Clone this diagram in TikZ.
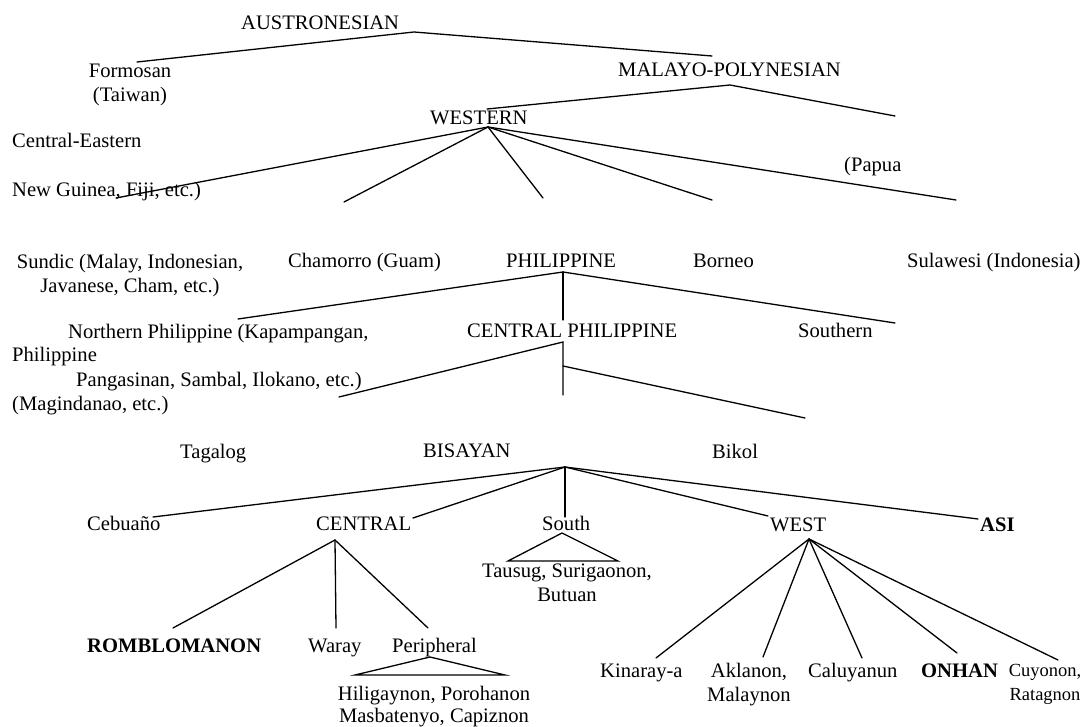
\documentclass[tikz,border=0pt]{standalone}
\usepackage{fontspec}
\setmainfont{Liberation Serif}
\begin{document}
\begin{tikzpicture}[x=1pt,y=-1pt,
  lang/.style={inner sep=0pt,font=\fontsize{20.6}{24}\selectfont},
  langleft/.style={lang,anchor=base west},
  langbold/.style={langleft,font=\fontsize{20.6}{24}\selectfont\bfseries},
  langstack/.style={lang,anchor=north,align=center},
  branch/.style={line width=1.3pt,line cap=round}]

\useasboundingbox (0,0) rectangle (1085,727);

% language names
\node[langleft] (austro) at (241,30) {AUSTRONESIAN};
\node[langstack] (formosan) at (130,64) {Formosan\\(Taiwan)};
\node[langleft] (malpol) at (618,77) {MALAYO-POLYNESIAN};
\node[langleft] (western) at (430,125) {WESTERN};
\node[langleft] (ceneast) at (12,148) {Central-Eastern};
\node[langleft] (newguinea) at (12,197) {New Guinea, Fiji, etc.)};
\node[langleft] (papua) at (844,172) {(Papua};

\node[langstack] (sundic) at (130,254) {Sundic (Malay, Indonesian,\\Javanese, Cham, etc.)};
\node[langleft] (chamorro) at (288,268) {Chamorro (Guam)};
\node[langleft] (philippine) at (506,268) {PHILIPPINE};
\node[langleft] (borneo) at (693,268) {Borneo};
\node[langleft] (sulawesi) at (907,268) {Sulawesi (Indonesia)};

\node[langleft] (northern) at (68,339) {Northern Philippine (Kapampangan,};
\node[langleft] (philsouth) at (12,362) {Philippine};
\node[langleft] (pangasinan) at (76,387) {Pangasinan, Sambal, Ilokano, etc.)};
\node[langleft] (magindanao) at (12,410) {(Magindanao, etc.)};
\node[langleft] (cenphil) at (467,338) {CENTRAL PHILIPPINE};
\node[langleft] (southern) at (798,338) {Southern};

\node[langleft] (tagalog) at (180,458) {Tagalog};
\node[langleft] (bisayan) at (423,457) {BISAYAN};
\node[langleft] (bikol) at (712,458) {Bikol};

\node[langleft] (cebuano) at (87,530) {Cebuaño};
\node[langleft] (central) at (316,530) {CENTRAL};
\node[langleft] (south) at (542,530) {South};
\node[langleft] (west) at (770,531) {WEST};
\node[langbold] (asi) at (980,531) {ASI};
\node[langstack] (tausug) at (567,564) {Tausug, Surigaonon,\\Butuan};

\node[langbold] (romblomanon) at (87,652) {ROMBLOMANON};
\node[langleft] (waray) at (308,652) {Waray};
\node[langleft] (peripheral) at (392,652) {Peripheral};
\node[langstack,font=\fontsize{20.6}{22}\selectfont] (hiligaynon) at (434,686) {Hiligaynon, Porohanon\\Masbatenyo, Capiznon};

\node[langleft] (kinaraya) at (600,677) {Kinaray-a};
\node[langstack] (aklanon) at (749,663) {Aklanon,\\Malaynon};
\node[langleft] (caluyanun) at (808,677) {Caluyanun};
\node[langbold] (onhan) at (921,677) {ONHAN};
\node[langstack,font=\fontsize{18.5}{24}\selectfont] (cuyonon) at (1045,664) {Cuyonon,\\Ratagnon};

% branch points
\foreach \n/\x/\y in {aus-l/137/62, aus-top/414/32, aus-r/712/56,
                      mp-l/487/109, mp-top/730/85, mp-r/895/116}
  \coordinate (\n) at (\x,\y);
\foreach \n/\x/\y in {w-top/488/127, w-a/116/198, w-b/344/202, w-c/543/198, w-d/712/200, w-e/956/200}
  \coordinate (\n) at (\x,\y);
\foreach \n/\x/\y in {p-top/563/272, p-a/238/319, p-b/563/320, p-c/895/323,
                      cp-top/563/342, cp-a/339/397, cp-b/563/395, cp-j/563/366, cp-c/805/418}
  \coordinate (\n) at (\x,\y);
\foreach \n/\x/\y in {b-top/565/467, b-a/153/517, b-b/413/518, b-c/565/517, b-d/768/516, b-e/978/519}
  \coordinate (\n) at (\x,\y);
\foreach \n/\x/\y in {c-top/335/540, c-a/173/628, c-b/336/628, c-c/428/628,
                      s-top/562/533, s-l/508/561, s-r/618/561,
                      pe-top/430/657, pe-l/355/675, pe-r/505/675}
  \coordinate (\n) at (\x,\y);
\foreach \n/\x/\y in {wt-top/809/539, wt-a/656/658, wt-b/763/657, wt-c/862/658, wt-d/957/653, wt-e/1058/660}
  \coordinate (\n) at (\x,\y);

% branches
\draw[branch] (aus-l) -- (aus-top) -- (aus-r);
\draw[branch] (mp-l) -- (mp-top) -- (mp-r);
\foreach \e in {a,...,e}
  \draw[branch] (w-top) -- (w-\e);
\foreach \e in {a,...,c}
  \draw[branch] (p-top) -- (p-\e);
\draw[branch] (cp-a) -- (cp-top) -- (cp-b);
\draw[branch] (cp-j) -- (cp-c);
\foreach \e in {a,...,e}
  \draw[branch] (b-top) -- (b-\e);
\foreach \e in {a,...,c}
  \draw[branch] (c-top) -- (c-\e);
\draw[branch] (s-l) -- (s-top) -- (s-r) -- cycle;
\draw[branch] (pe-l) -- (pe-top) -- (pe-r) -- cycle;
\foreach \e in {a,...,e}
  \draw[branch] (wt-top) -- (wt-\e);

\end{tikzpicture}
\end{document}
